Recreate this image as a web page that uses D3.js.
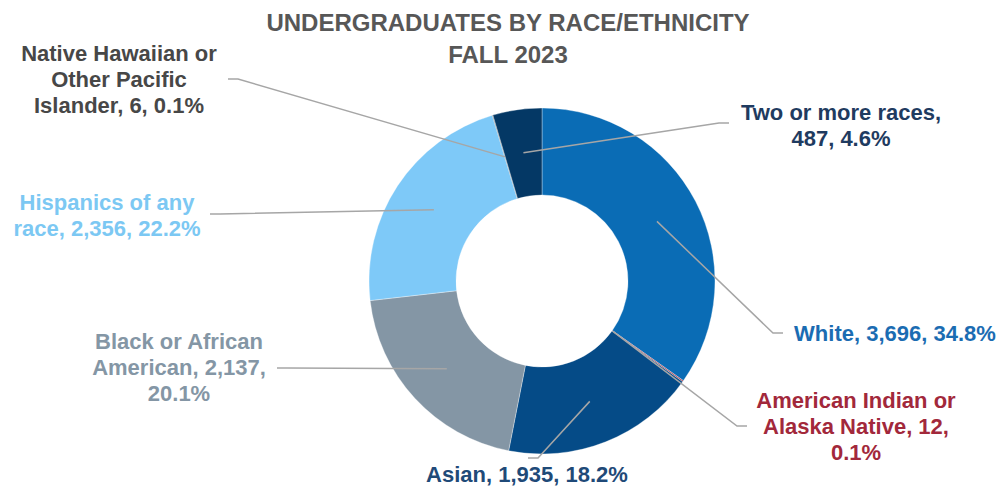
<!DOCTYPE html>
<html>
<head>
<meta charset="utf-8">
<script src="https://cdn.jsdelivr.net/npm/d3@7"></script>
<style>
  body { margin: 0; background: #fff; }
  svg text { font-family: "Liberation Sans", Arial, sans-serif; font-weight: bold; }
</style>
</head>
<body>
<div id="chart"></div>
<script>
// Data (clockwise from 12 o'clock)
const categories = ["White", "American Indian or Alaska Native", "Asian", "Black or African American",
                    "Hispanics of any race", "Native Hawaiian or Other Pacific Islander", "Two or more races"];
const counts = [3696, 12, 1935, 2137, 2356, 6, 487];
const titleLines = ["UNDERGRADUATES BY RACE/ETHNICITY", "FALL 2023"];

// Styling
const sliceColors = ["#0a6cb5", "#a0283a", "#054b87", "#8496a5", "#7ec9f8", "#3f3f3f", "#043865"];
const textColors  = ["#1b6cb2", "#a2283b", "#1f4a78", "#8496a5", "#7cc8f3", "#474747", "#1f3b60"];

// label layout: centre x, first baseline, words per line, leader anchor, leader start radius
const labelLayout = [
    { x: 895, y: 341, wrap: [3],       ax: 783, ay: 333, r: "mid" },
    { x: 856, y: 408, wrap: [3, 3, 1], ax: 747, ay: 426, r: "inner" },
    { x: 527, y: 482, wrap: [3],       ax: 528, ay: 458, r: "mid" },
    { x: 179, y: 349, wrap: [3, 2, 1], ax: 277, ay: 368, r: "mid" },
    { x: 107, y: 210, wrap: [3, 3],    ax: 210, ay: 214, r: "mid" },
    { x: 119, y: 61,  wrap: [3, 2, 3], ax: 228, ay: 79,  r: "mid" },
    { x: 841, y: 120, wrap: [4, 2],    ax: 729, ay: 123, r: "mid" }
];

const width = 999, height = 489;
const cx = 542, cy = 281;
const outerR = 173, innerR = 86;
const lineH = 26;

const svg = d3.select("#chart")
    .append("svg")
    .attr("width", width)
    .attr("height", height);

// title
svg.append("text")
    .attr("x", 508)
    .attr("y", 31)
    .attr("text-anchor", "middle")
    .style("font-size", "24px")
    .style("fill", "#575757")
    .selectAll("tspan")
    .data(titleLines)
    .enter()
    .append("tspan")
    .attr("x", 508)
    .attr("dy", (d, i) => i === 0 ? 0 : 32)
    .text(d => d);

const total = d3.sum(counts);
const pctFmt = d3.format(".1f");
const numFmt = d3.format(",");

const pie = d3.pie().sort(null).value(d => d);
const arcs = pie(counts);

const arc = d3.arc().innerRadius(innerR).outerRadius(outerR);

const g = svg.append("g").attr("transform", `translate(${cx},${cy})`);

// slices
g.selectAll("path.slice")
    .data(arcs)
    .enter()
    .append("path")
    .attr("class", "slice")
    .attr("d", arc)
    .attr("fill", (d, i) => sliceColors[i])
    .attr("stroke", "rgba(255,255,255,0.45)")
    .attr("stroke-width", 0.75);

// leader lines
function startPoint(d, mode) {
    const a = (d.startAngle + d.endAngle) / 2;
    const r = mode === "inner" ? innerR + 1 : (innerR + outerR) / 2;
    return [cx + r * Math.sin(a), cy - r * Math.cos(a)];
}

svg.append("g")
    .selectAll("polyline")
    .data(arcs)
    .enter()
    .append("polyline")
    .attr("points", (d, i) => {
        const L = labelLayout[i];
        const s = startPoint(d, L.r);
        const dir = Math.sign(s[0] - L.ax);
        const knee = [L.ax + dir * 10, L.ay];
        return [[L.ax, L.ay], knee, s].map(p => p.join(",")).join(" ");
    })
    .attr("fill", "none")
    .attr("stroke", "#a6a6a6")
    .attr("stroke-width", 1.5);

// labels
arcs.forEach((d, i) => {
    const L = labelLayout[i];
    const full = `${categories[i]}, ${numFmt(counts[i])}, ${pctFmt(counts[i] / total * 100)}%`;
    const words = full.split(" ");
    const lines = [];
    let k = 0;
    L.wrap.forEach(n => { lines.push(words.slice(k, k + n).join(" ")); k += n; });

    const t = svg.append("text")
        .attr("x", L.x)
        .attr("y", L.y)
        .attr("text-anchor", "middle")
        .style("font-size", "22px")
        .style("fill", textColors[i]);

    t.selectAll("tspan")
        .data(lines)
        .enter()
        .append("tspan")
        .attr("x", L.x)
        .attr("dy", (s, j) => j === 0 ? 0 : lineH)
        .text(s => s);
});
</script>
</body>
</html>
